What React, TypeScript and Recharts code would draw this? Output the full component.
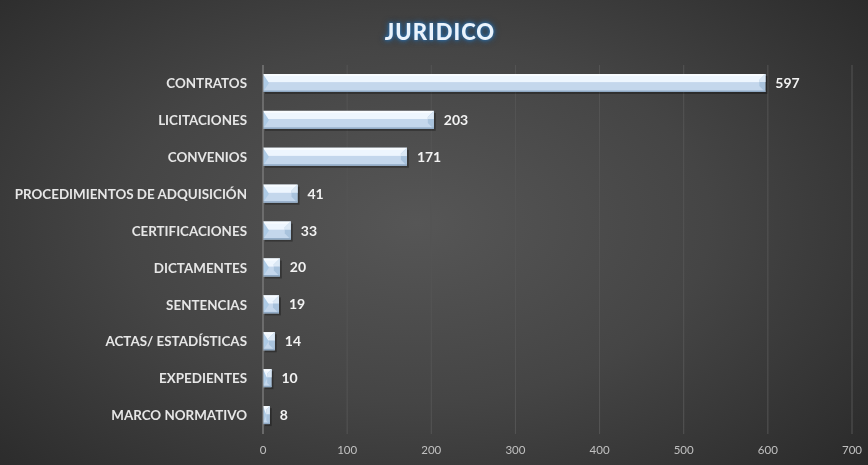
import React from "react";
import { BarChart, Bar, XAxis, YAxis, CartesianGrid, LabelList } from "recharts";

const categories = [
  "CONTRATOS",
  "LICITACIONES",
  "CONVENIOS",
  "PROCEDIMIENTOS DE ADQUISICIÓN",
  "CERTIFICACIONES",
  "DICTAMENTES",
  "SENTENCIAS",
  "ACTAS/ ESTADÍSTICAS",
  "EXPEDIENTES",
  "MARCO NORMATIVO",
];
const values = [597, 203, 171, 41, 33, 20, 19, 14, 10, 8];
const xTicks = [0, 100, 200, 300, 400, 500, 600, 700];

const data = categories.map((name, i) => ({ name, value: values[i] }));

const FONT = "Lato, 'Open Sans', sans-serif";

// bevelled bar, roughly like the Excel preset
function BevelBar(props: any) {
  const { x, y, width, height } = props;
  if (!width || width <= 0) return null;
  const b = Math.min(6, width / 2, height / 3);
  const mid = y + height * 0.45;
  return (
    <g>
      <rect x={x + 2} y={y + 2} width={width} height={height} fill="rgba(0,0,0,0.3)" />
      <rect x={x} y={y} width={width} height={height} fill="#c4d7ec" />
      <rect x={x} y={y} width={width} height={mid - y} fill="#eef6fe" />
      <rect x={x} y={y} width={width} height={2} fill="#f8fcff" />
      <polygon
        points={`${x},${y} ${x + b},${y + height / 2} ${x},${y + height}`}
        fill="#aecbe6"
      />
      <polygon
        points={`${x + width},${y} ${x + width - b},${y + b} ${x + width - b},${y + height - b} ${x + width},${y + height}`}
        fill="#a9c3dd"
      />
      <polygon
        points={`${x + width},${y} ${x + width - b},${y + b} ${x + width - b},${mid}  ${x + width},${mid}`}
        fill="#dbe8f5"
      />
      <rect x={x} y={y + height - 1.5} width={width} height={1.5} fill="#8fa9c4" />
    </g>
  );
}

// plain tick so long names stay on one line
function CategoryTick(props: any) {
  const { x, y, payload } = props;
  return (
    <text
      x={x}
      y={y}
      dy="0.35em"
      textAnchor="end"
      fill="#e6e6e6"
      fontSize={13.4}
      fontWeight={700}
      fontFamily={FONT}
    >
      {payload.value}
    </text>
  );
}

export default function App() {
  return (
    <div
      style={{
        position: "fixed",
        left: 0,
        top: 0,
        width: 868,
        height: 465,
        background:
          "radial-gradient(ellipse 75% 85% at 48% 48%, #565656 0%, #454545 45%, #2e2e2e 85%, #262626 100%)",
        overflow: "hidden",
      }}
    >
      <div
        style={{
          position: "absolute",
          left: 0,
          top: 18,
          width: 880,
          textAlign: "center",
          fontFamily: FONT,
          fontWeight: 900,
          fontSize: 22,
          letterSpacing: 1,
          color: "#eaf3fc",
          textShadow: "0 0 3px #2f6fa8, 0 0 5px #2f6fa8, 0 0 7px #1f4e79",
        }}
      >
        JURIDICO
      </div>
      <BarChart
        width={868}
        height={465}
        data={data}
        layout="vertical"
        barSize={18}
        margin={{ top: 65, right: 16, left: 0, bottom: 0 }}
      >
        <CartesianGrid horizontal={false} stroke="#555555" strokeWidth={1} />
        <XAxis
          type="number"
          domain={[0, 700]}
          ticks={xTicks}
          height={31}
          axisLine={false}
          tickLine={false}
          tickSize={0}
          tickMargin={12}
          tick={{ fill: "#c0c0c0", fontSize: 11.5, fontFamily: FONT }}
        />
        <YAxis
          type="category"
          dataKey="name"
          width={263}
          axisLine={{ stroke: "#8a8a8a" }}
          tickLine={false}
          tickSize={0}
          tickMargin={16}
          interval={0}
          tick={<CategoryTick />}
        />
        <Bar dataKey="value" shape={<BevelBar />} isAnimationActive={false}>
          <LabelList
            dataKey="value"
            position="right"
            offset={10}
            fill="#f2f2f2"
            fontSize={14}
            fontWeight={700}
            fontFamily={FONT}
          />
        </Bar>
      </BarChart>
    </div>
  );
}
